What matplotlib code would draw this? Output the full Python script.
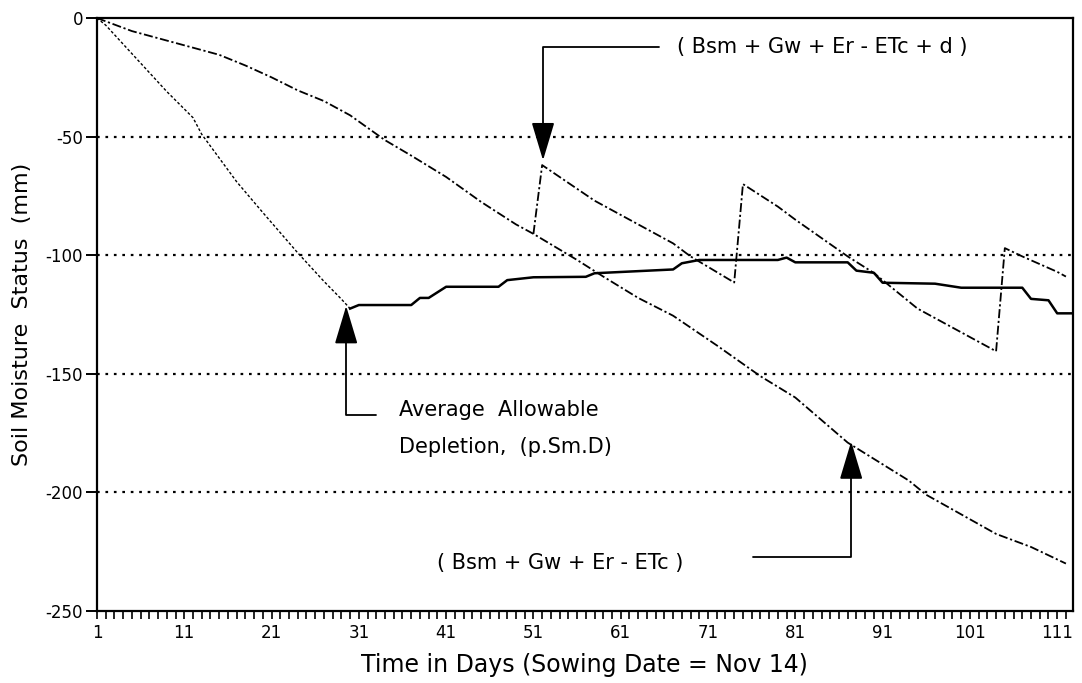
import matplotlib
matplotlib.use("Agg")
import matplotlib.pyplot as plt
from matplotlib.ticker import FixedLocator, MultipleLocator

plt.rcParams["font.family"] = ["DejaVu Sans"]
plt.rcParams["axes.unicode_minus"] = False

# Soil moisture balance without irrigation: (Bsm + Gw + Er - ETc)
days_balance = [1, 5, 8, 12, 15, 18, 21, 24, 27, 30, 34, 37, 41, 45, 49, 51,
                56, 59, 63, 67, 72, 77, 81, 87, 94, 96, 104, 108, 112]
balance = [0, -5.5, -8.5, -12.5, -15.5, -20, -25, -30.5, -35, -41, -51.5, -58,
           -67, -77.5, -87, -91, -102, -109, -118, -125.5, -138, -151, -160,
           -179, -195, -201, -217.5, -223, -230]

# Soil moisture balance with irrigation: (Bsm + Gw + Er - ETc + d), from first irrigation on
days_irrigated = [51, 52, 58, 62, 67, 69, 74, 75, 79, 81, 87, 90, 95, 100,
                  104, 105, 107, 111, 112]
irrigated = [-91, -62, -77, -85, -95, -100.5, -111.5, -70, -79.5, -85, -100.5,
             -107.5, -122.5, -132.5, -140.5, -97, -100.5, -107, -109]

# Average allowable depletion (p.Sm.D)
days_depletion = [1, 2, 6, 9, 12, 13, 17, 20, 24, 27, 29, 30, 31, 37, 38, 39,
                  41, 47, 48, 51, 57, 58, 67, 68, 69, 70, 79, 80, 81, 87, 88,
                  90, 91, 97, 100, 107, 108, 110, 111, 113]
depletion = [0, -3, -19, -31, -42, -49, -69, -82, -99, -111, -118.5, -122.5,
             -121, -121, -118, -118, -113.3, -113.3, -110.5, -109.3, -109.1,
             -107.6, -106, -103.4, -102.7, -102, -102, -101, -103, -103,
             -106.5, -107.4, -111.6, -112, -113.7, -113.7, -118.4, -119,
             -124.5, -124.5]
root_zone_end = 30  # day the root zone reaches full depth

x_ticks = list(range(1, 112, 10))
y_ticks = [0, -50, -100, -150, -200, -250]
grid_levels = [-50, -100, -150, -200]

fig = plt.figure(figsize=(10.82, 6.83), dpi=100)
ax = fig.add_axes([0.0896, 0.1054, 0.902, 0.8682])

for g in grid_levels:
    ax.axhline(g, color="black", lw=1.6, ls=(0, (1.2, 2.6)), zorder=1)

dashdot = (0, (5, 1.5, 1.2, 1.5))
ax.plot(days_balance, balance, color="black", lw=1.3, ls=dashdot, zorder=3)
ax.plot(days_irrigated, irrigated, color="black", lw=1.3, ls=dashdot, zorder=3)

split = days_depletion.index(root_zone_end) + 1
ax.plot(days_depletion[:split], depletion[:split], color="black", lw=1.0,
        ls=(0, (2, 1.5)), zorder=3)
ax.plot(days_depletion[split - 1:], depletion[split - 1:], color="black",
        lw=1.8, ls="-", zorder=3)

ax.set_xlim(1, 112.8)
ax.set_ylim(-250, 0)
ax.xaxis.set_major_locator(FixedLocator(x_ticks))
ax.xaxis.set_minor_locator(MultipleLocator(1))
ax.yaxis.set_major_locator(FixedLocator(y_ticks))
ax.tick_params(axis="x", which="both", direction="out", length=6, width=1.2,
               labelsize=12, pad=3)
ax.tick_params(axis="y", which="major", direction="out", length=8, width=1.4,
               labelsize=12, pad=2)
for s in ax.spines.values():
    s.set_linewidth(1.6)

ax.set_xlabel("Time in Days (Sowing Date = Nov 14)", fontsize=17, labelpad=8)
ax.set_ylabel("Soil Moisture  Status  (mm)", fontsize=16, labelpad=10)

arrow = dict(arrowstyle="-|>,head_length=2.4,head_width=0.72", color="black",
             lw=1.3, shrinkA=0, shrinkB=0, mutation_scale=10,
             connectionstyle="angle,angleA=0,angleB=90,rad=0")

ax.annotate("", xy=(52.1, -60), xytext=(65.4, -12.2), arrowprops=arrow, zorder=4)
ax.text(67.5, -12.2, "( Bsm + Gw + Er - ETc + d )", fontsize=15,
        ha="left", va="center")

ax.annotate("", xy=(29.55, -121.4), xytext=(33.0, -167.4), arrowprops=arrow, zorder=4)
ax.text(35.6, -165.3, "Average  Allowable", fontsize=15, ha="left", va="center")
ax.text(35.6, -180.9, "Depletion,  (p.Sm.D)", fontsize=15, ha="left", va="center")

ax.annotate("", xy=(87.4, -178.5), xytext=(76.1, -227.2), arrowprops=arrow, zorder=4)
ax.text(40.0, -229.8, "( Bsm + Gw + Er - ETc )", fontsize=15, ha="left",
        va="center")

fig.savefig("out.png", dpi=100)
